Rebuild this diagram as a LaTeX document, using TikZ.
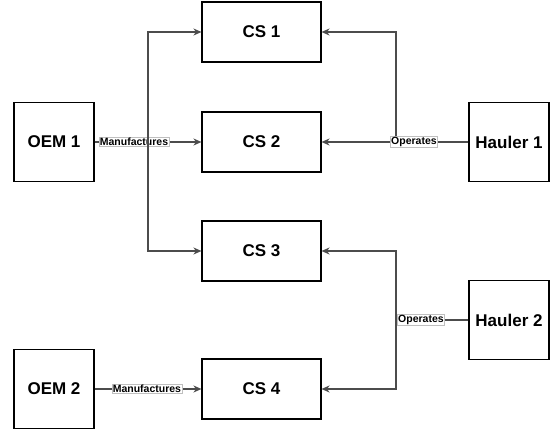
\documentclass[tikz,border=0pt]{standalone}
\usepackage{fontspec}
\setmainfont{Liberation Sans}
\usetikzlibrary{arrows.meta}
\begin{document}
\begin{tikzpicture}[x=1pt,y=-1pt,
  box/.style={draw=black, line width=1.1pt, fill=white, inner sep=0pt, font=\fontsize{17}{20}\selectfont\bfseries},
  small/.style={box, minimum width=80pt, minimum height=79pt},
  cs/.style={box, minimum width=119pt, minimum height=60pt},
  lab/.style={draw=black!25, line width=0.5pt, fill=white, inner sep=0.7pt, font=\fontsize{10.5}{12}\selectfont\bfseries},
  arr/.style={draw=black!70, line width=1.1pt, -{Stealth[length=8pt,width=7pt,inset=2.5pt]}},
  ln/.style={draw=black!70, line width=1.1pt}]
\useasboundingbox (0,0) rectangle (552,430);
\node[small] (oem1) at (54,142) {OEM 1};
\node[small] (oem2) at (54,389) {OEM 2};
\node[cs] (cs1) at (261.5,32) {CS 1};
\node[cs] (cs2) at (261.5,142) {CS 2};
\node[cs] (cs3) at (261.5,251) {CS 3};
\node[cs] (cs4) at (261.5,389) {CS 4};
\node[small] (h1) at (509,142) {Hauler 1};
\node[small] (h2) at (509,320) {Hauler 2};
\coordinate (jl) at (148,142);
\coordinate (jr1) at (396,142);
\coordinate (jr2) at (396,320);
% OEM 1
\draw[arr] (oem1.east) -- (cs2.west);
\node[lab] (m1) at (134,142) {Manufactures};
\draw[arr] (jl) |- (cs1.west);
\draw[arr] (jl) |- (cs3.west);
% OEM 2
\draw[arr] (oem2.east) -- node[lab, pos=0.49] (m2) {Manufactures} (cs4.west);
% Hauler 1
\draw[arr] (h1.west) -- (cs2.east);
\draw[arr] (jr1) |- (cs1.east);
\node[lab] (o1) at (414,142) {Operates};
% Hauler 2
\draw[ln] (h2.west) -- (jr2);
\draw[arr] (jr2) |- (cs3.east);
\draw[arr] (jr2) |- (cs4.east);
\node[lab] (o2) at (421,320) {Operates};
\end{tikzpicture}
\end{document}
